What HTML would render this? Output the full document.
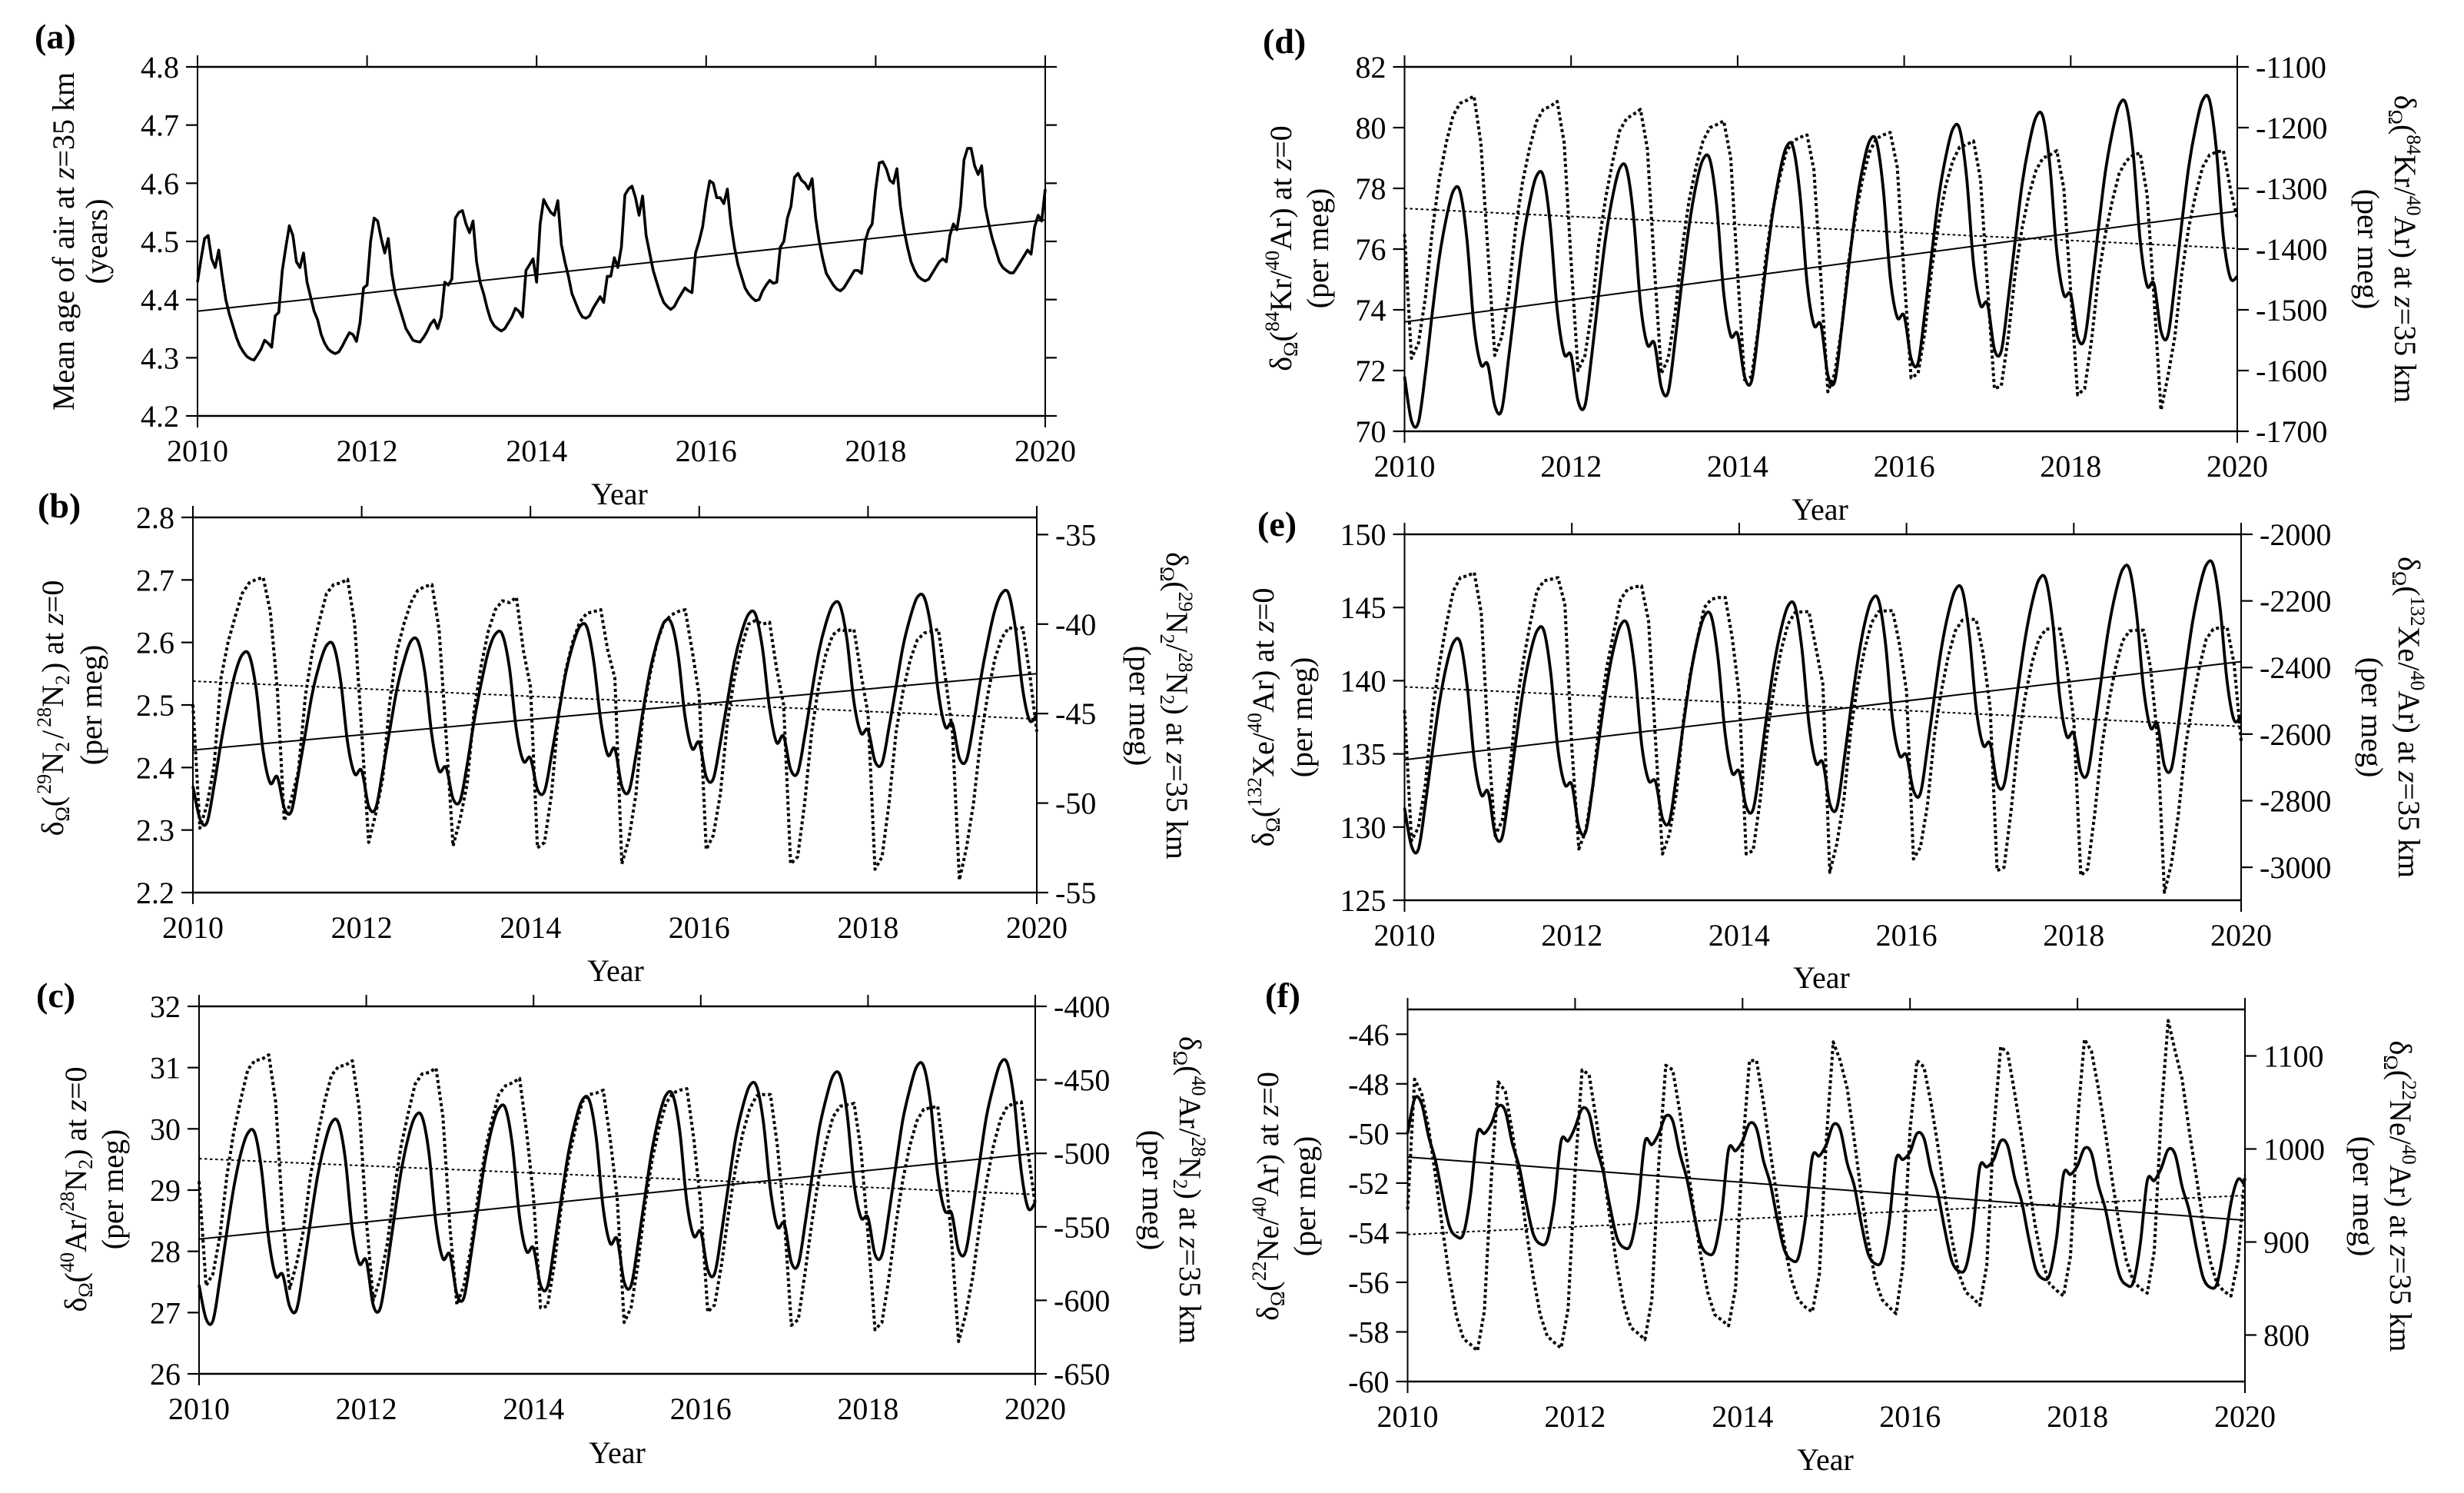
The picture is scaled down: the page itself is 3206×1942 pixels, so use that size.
<!DOCTYPE html>
<html lang="en">
<head>
<meta charset="utf-8">
<title>Seasonal cycles and trends of mean age of air and gravitational separation, 2010-2020</title>
<style>
html,body{margin:0;padding:0;background:#fff;}
svg{display:block;}
text{font-family:"Liberation Serif","DejaVu Serif",serif;fill:#000;font-size:40px;}
.s{font-size:26px;}
.i{font-style:italic;}
.panel-tag{font-weight:bold;font-size:46px;}
</style>
</head>
<body>
<svg id="figure" xmlns="http://www.w3.org/2000/svg" width="3206" height="1942" viewBox="0 0 3206 1942">
  <rect width="3206" height="1942" fill="#fff"/>
  <text class="panel-tag" x="45" y="63">(a)</text>
  <text class="panel-tag" x="49" y="673">(b)</text>
  <text class="panel-tag" x="47" y="1310">(c)</text>
  <text class="panel-tag" x="1643" y="69">(d)</text>
  <text class="panel-tag" x="1636" y="697">(e)</text>
  <text class="panel-tag" x="1646" y="1310">(f)</text>

  <text text-anchor="middle" transform="translate(96,314) rotate(-90)">Mean age of air at <tspan class="i">z</tspan>=35 km</text>
  <text text-anchor="middle" transform="translate(139,314) rotate(-90)">(years)</text>

  <text text-anchor="middle" transform="translate(82,921) rotate(-90)">δ<tspan class="s" dy="8">Ω</tspan><tspan dy="-8">(</tspan><tspan class="s" dy="-16" dx="3">29</tspan><tspan dy="16">N</tspan><tspan class="s" dy="8">2</tspan><tspan dy="-8" dx="4">/</tspan><tspan class="s" dy="-16" dx="4">28</tspan><tspan dy="16">N</tspan><tspan class="s" dy="8">2</tspan><tspan dy="-8" dx="3">) at </tspan><tspan class="i">z</tspan>=0</text>
  <text text-anchor="middle" transform="translate(132,917) rotate(-90)">(per meg)</text>
  <text text-anchor="middle" transform="translate(1518,918) rotate(90)">δ<tspan class="s" dy="8">Ω</tspan><tspan dy="-8">(</tspan><tspan class="s" dy="-16">29</tspan><tspan dy="16">N</tspan><tspan class="s" dy="8">2</tspan><tspan dy="-8">/</tspan><tspan class="s" dy="-16">28</tspan><tspan dy="16">N</tspan><tspan class="s" dy="8">2</tspan><tspan dy="-8">) at </tspan><tspan class="i">z</tspan>=35 km</text>
  <text text-anchor="middle" transform="translate(1470,918) rotate(90)">(per meg)</text>

  <text text-anchor="middle" transform="translate(112,1547) rotate(-90)">δ<tspan class="s" dy="8">Ω</tspan><tspan dy="-8">(</tspan><tspan class="s" dy="-16">40</tspan><tspan dy="16">Ar/</tspan><tspan class="s" dy="-16">28</tspan><tspan dy="16">N</tspan><tspan class="s" dy="8">2</tspan><tspan dy="-8">) at </tspan><tspan class="i">z</tspan>=0</text>
  <text text-anchor="middle" transform="translate(160,1547) rotate(-90)">(per meg)</text>
  <text text-anchor="middle" transform="translate(1535,1548) rotate(90)">δ<tspan class="s" dy="8">Ω</tspan><tspan dy="-8">(</tspan><tspan class="s" dy="-16">40</tspan><tspan dy="16">Ar/</tspan><tspan class="s" dy="-16">28</tspan><tspan dy="16">N</tspan><tspan class="s" dy="8">2</tspan><tspan dy="-8">) at </tspan><tspan class="i">z</tspan>=35 km</text>
  <text text-anchor="middle" transform="translate(1487,1548) rotate(90)">(per meg)</text>

  <text text-anchor="middle" transform="translate(1680,323) rotate(-90)">δ<tspan class="s" dy="8">Ω</tspan><tspan dy="-8">(</tspan><tspan class="s" dy="-16">84</tspan><tspan dy="16">Kr/</tspan><tspan class="s" dy="-16">40</tspan><tspan dy="16">Ar) at </tspan><tspan class="i">z</tspan>=0</text>
  <text text-anchor="middle" transform="translate(1728,323) rotate(-90)">(per meg)</text>
  <text text-anchor="middle" transform="translate(3116,324) rotate(90)">δ<tspan class="s" dy="8">Ω</tspan><tspan dy="-8">(</tspan><tspan class="s" dy="-16">84</tspan><tspan dy="16">Kr/</tspan><tspan class="s" dy="-16">40</tspan><tspan dy="16">Ar) at </tspan><tspan class="i">z</tspan>=35 km</text>
  <text text-anchor="middle" transform="translate(3068,324) rotate(90)">(per meg)</text>

  <text text-anchor="middle" transform="translate(1657,933) rotate(-90)">δ<tspan class="s" dy="8">Ω</tspan><tspan dy="-8">(</tspan><tspan class="s" dy="-16">132</tspan><tspan dy="16">Xe/</tspan><tspan class="s" dy="-16">40</tspan><tspan dy="16">Ar) at </tspan><tspan class="i">z</tspan>=0</text>
  <text text-anchor="middle" transform="translate(1707,933) rotate(-90)">(per meg)</text>
  <text text-anchor="middle" transform="translate(3121,933) rotate(90)">δ<tspan class="s" dy="8">Ω</tspan><tspan dy="-8">(</tspan><tspan class="s" dy="-16">132</tspan><tspan dy="16">Xe/</tspan><tspan class="s" dy="-16">40</tspan><tspan dy="16">Ar) at </tspan><tspan class="i">z</tspan>=35 km</text>
  <text text-anchor="middle" transform="translate(3073,933) rotate(90)">(per meg)</text>

  <text text-anchor="middle" transform="translate(1663,1556) rotate(-90)">δ<tspan class="s" dy="8">Ω</tspan><tspan dy="-8">(</tspan><tspan class="s" dy="-16">22</tspan><tspan dy="16">Ne/</tspan><tspan class="s" dy="-16">40</tspan><tspan dy="16">Ar) at </tspan><tspan class="i">z</tspan>=0</text>
  <text text-anchor="middle" transform="translate(1711,1556) rotate(-90)">(per meg)</text>
  <text text-anchor="middle" transform="translate(3110,1556) rotate(90)">δ<tspan class="s" dy="8">Ω</tspan><tspan dy="-8">(</tspan><tspan class="s" dy="-16">22</tspan><tspan dy="16">Ne/</tspan><tspan class="s" dy="-16">40</tspan><tspan dy="16">Ar) at </tspan><tspan class="i">z</tspan>=35 km</text>
  <text text-anchor="middle" transform="translate(3062,1556) rotate(90)">(per meg)</text>

  <text text-anchor="middle" x="806" y="656">Year</text>
  <text text-anchor="middle" x="801" y="1276">Year</text>
  <text text-anchor="middle" x="803" y="1903">Year</text>
  <text text-anchor="middle" x="2368" y="676">Year</text>
  <text text-anchor="middle" x="2370" y="1285">Year</text>
  <text text-anchor="middle" x="2375" y="1912">Year</text>
</svg>
<script>
// ---- shared axis data ----
const yearLabels = ['2010','2012','2014','2016','2018','2020'];
const yearDomain = [2010, 2020];

// ---- panel a: mean age of air, samples twice a month ----
const aLeftDomain = [4.2, 4.8];
const aLeftLabels = ['4.2','4.3','4.4','4.5','4.6','4.7','4.8'];
const aSolid = [
4.43,4.47,4.505,4.51,4.47,4.455, 4.485,4.44,4.40,4.375,4.355,4.335, 4.32,4.31,4.302,4.298,4.296,4.305, 4.315,4.33,4.325,4.318,4.372,4.378,
4.45,4.49,4.527,4.51,4.465,4.455, 4.48,4.43,4.405,4.38,4.365,4.34, 4.325,4.315,4.31,4.307,4.31,4.32, 4.332,4.343,4.34,4.328,4.36,4.42,
4.425,4.50,4.54,4.535,4.505,4.48, 4.505,4.445,4.41,4.39,4.37,4.35, 4.34,4.33,4.328,4.327,4.335,4.345, 4.358,4.365,4.35,4.37,4.43,4.425,
4.435,4.54,4.55,4.553,4.53,4.515, 4.535,4.465,4.43,4.41,4.385,4.365, 4.355,4.35,4.346,4.35,4.36,4.37, 4.385,4.38,4.37,4.45,4.46,4.47,
4.43,4.53,4.572,4.56,4.55,4.545, 4.57,4.495,4.465,4.44,4.41,4.395, 4.38,4.37,4.368,4.372,4.385,4.395, 4.405,4.395,4.44,4.44,4.472,4.455,
4.49,4.58,4.59,4.595,4.575,4.545, 4.578,4.51,4.48,4.45,4.43,4.41, 4.395,4.388,4.383,4.388,4.40,4.41, 4.42,4.415,4.412,4.48,4.50,4.525,
4.57,4.604,4.60,4.575,4.575,4.565, 4.59,4.53,4.49,4.46,4.44,4.42, 4.41,4.403,4.398,4.40,4.415,4.425, 4.433,4.428,4.43,4.49,4.50,4.54,
4.56,4.61,4.617,4.605,4.60,4.59, 4.608,4.54,4.50,4.47,4.445,4.435, 4.425,4.418,4.415,4.42,4.43,4.44, 4.45,4.45,4.445,4.50,4.52,4.53,
4.59,4.635,4.637,4.625,4.605,4.60, 4.625,4.56,4.52,4.49,4.465,4.45, 4.44,4.435,4.432,4.435,4.445,4.455, 4.465,4.47,4.465,4.51,4.53,4.52,
4.56,4.64,4.66,4.66,4.63,4.615, 4.63,4.56,4.53,4.505,4.485,4.465, 4.455,4.45,4.446,4.446,4.455,4.465, 4.475,4.485,4.478,4.525,4.545,4.535,
4.59];
const aSolidTrend = [4.38, 4.537];

// ---- panel b: 29N2/28N2, monthly ----
const bLeftDomain = [2.2, 2.8];
const bLeftLabels = ['2.2','2.3','2.4','2.5','2.6','2.7','2.8'];
const bRightDomain = [-55, -34.04];
const bRightLabels = ['-55','-50','-45','-40','-35'];
const bSolid = [
2.37,2.318,2.312,2.37,2.44,2.50,2.55,2.58,2.58,2.525,2.425,2.375,
2.385,2.335,2.33,2.39,2.455,2.52,2.565,2.595,2.595,2.54,2.44,2.39,
2.395,2.338,2.335,2.395,2.46,2.525,2.57,2.602,2.602,2.55,2.45,2.395,
2.40,2.35,2.347,2.405,2.475,2.535,2.585,2.613,2.613,2.56,2.46,2.41,
2.415,2.365,2.362,2.42,2.485,2.55,2.595,2.625,2.625,2.57,2.475,2.42,
2.43,2.37,2.362,2.42,2.49,2.555,2.60,2.632,2.632,2.58,2.48,2.43,
2.44,2.385,2.382,2.44,2.505,2.57,2.615,2.645,2.645,2.59,2.495,2.44,
2.45,2.397,2.392,2.45,2.52,2.585,2.63,2.66,2.66,2.605,2.505,2.455,
2.46,2.41,2.407,2.465,2.53,2.595,2.64,2.672,2.672,2.62,2.52,2.465,
2.47,2.415,2.412,2.47,2.54,2.60,2.65,2.678,2.678,2.62,2.525,2.475,
2.485];
const bDashed = [
-44.5,-51.4,-50.1,-48,-43,-41,-39.6,-38.3,-37.7,-37.5,-37.4,-39.3,
-43.6,-51.0,-49.8,-48.2,-44,-41.5,-39.8,-38.3,-37.8,-37.7,-37.5,-40,
-46,-52.2,-50.6,-48.6,-44.3,-41.5,-40,-38.8,-38.1,-37.9,-37.8,-40.3,
-46.2,-52.4,-50.9,-48.9,-44.8,-42.3,-40.4,-39.2,-38.7,-38.8,-38.5,-41.5,
-43.5,-52.5,-52.2,-49.5,-45,-42.6,-41,-39.9,-39.4,-39.3,-39.2,-41.5,
-43,-53.4,-52,-49.5,-45,-42.8,-41,-39.9,-39.5,-39.3,-39.2,-41.5,
-44,-52.6,-51.8,-49.5,-45.5,-43,-41.3,-40,-39.8,-40,-39.9,-42.5,
-44.5,-53.4,-53,-50,-46,-43.4,-41.7,-40.6,-40.3,-40.4,-40.3,-42.8,
-45,-53.7,-53,-50,-46,-43.7,-42,-40.9,-40.5,-40.4,-40.3,-43,
-46,-54.3,-52.5,-50,-46.5,-44,-42,-40.8,-40.2,-40.3,-40.2,-42.8,
-46];
const bSolidTrend = [2.428, 2.55];
const bDottedTrend = [-43.19, -45.3];

// ---- panel c: 40Ar/28N2, monthly ----
const cLeftDomain = [26, 32];
const cLeftLabels = ['26','27','28','29','30','31','32'];
const cRightDomain = [-650, -400];
const cRightLabels = ['-650','-600','-550','-500','-450','-400'];
const cSolid = [
27.45,26.9,26.87,27.55,28.33,29.05,29.6,29.93,29.93,29.3,28.2,27.6,
27.62,27.1,27.05,27.72,28.5,29.22,29.75,30.1,30.1,29.5,28.35,27.8,
27.85,27.12,27.07,27.75,28.55,29.3,29.85,30.2,30.2,29.6,28.45,27.88,
27.95,27.3,27.24,27.92,28.7,29.45,30,30.33,30.33,29.7,28.55,28,
28.05,27.45,27.42,28.1,28.87,29.6,30.12,30.47,30.47,29.85,28.7,28.13,
28.2,27.5,27.44,28.12,28.9,29.65,30.2,30.55,30.55,29.95,28.8,28.25,
28.32,27.7,27.64,28.32,29.1,29.85,30.35,30.7,30.7,30.1,29,28.4,
28.45,27.82,27.79,28.47,29.25,30,30.5,30.87,30.87,30.25,29.1,28.55,
28.55,27.95,27.94,28.62,29.4,30.15,30.65,31.02,31.02,30.4,29.25,28.67,
28.62,28.02,27.99,28.67,29.45,30.2,30.7,31.07,31.07,30.45,29.3,28.7,
28.8];
const cDashed = [
-519,-590,-582,-556,-515,-485,-463,-443,-437,-436,-433,-465,
-543,-592,-575,-552,-515,-488,-465,-447,-441,-440,-437,-470,
-545,-600,-585,-562,-525,-495,-473,-453,-446,-445,-442,-475,
-550,-603,-590,-565,-530,-500,-478,-460,-454,-452,-449,-485,
-530,-605,-604,-575,-535,-505,-483,-465,-460,-459,-457,-490,
-530,-615,-605,-575,-535,-505,-483,-466,-459,-457,-456,-490,
-535,-608,-603,-575,-540,-510,-487,-470,-461,-460,-460,-495,
-545,-617,-613,-580,-545,-515,-492,-475,-468,-467,-466,-498,
-555,-620,-615,-585,-548,-518,-495,-478,-470,-469,-468,-505,
-560,-628,-610,-585,-550,-520,-495,-477,-468,-466,-465,-500,
-535];
const cSolidTrend = [28.2, 29.6];
const cDottedTrend = [-503.6, -528];

// ---- panel d: 84Kr/40Ar, monthly ----
const dLeftDomain = [70, 82];
const dLeftLabels = ['70','72','74','76','78','80','82'];
const dRightDomain = [-1700, -1100];
const dRightLabels = ['-1700','-1600','-1500','-1400','-1300','-1200','-1100'];
const dSolid = [
71.8,70.35,70.3,71.9,73.9,75.7,77,77.9,77.9,76.3,73.5,72.2,
72.2,70.85,70.7,72.4,74.35,76.2,77.5,78.4,78.4,76.8,74,72.55,
72.5,71.0,70.85,72.55,74.55,76.4,77.75,78.65,78.65,77.05,74.2,72.85,
72.9,71.45,71.3,73,75,76.75,78.1,78.95,78.95,77.4,74.55,73.15,
73.2,71.8,71.65,73.35,75.3,77.1,78.45,79.35,79.35,77.75,74.9,73.5,
73.5,71.85,71.65,73.4,75.4,77.3,78.65,79.55,79.55,77.95,75.05,73.75,
73.8,72.4,72.25,73.95,75.9,77.75,79.05,79.95,79.95,78.35,75.5,74.15,
74.2,72.7,72.65,74.35,76.3,78.15,79.45,80.35,80.35,78.75,75.9,74.5,
74.5,73.1,73.05,74.75,76.7,78.55,79.85,80.75,80.75,79.15,76.3,74.8,
74.85,73.3,73.15,74.85,76.85,78.7,80,80.9,80.9,79.25,76.4,75.05,
75.1];
const dDashed = [
-1375,-1580,-1555,-1480,-1370,-1285,-1225,-1180,-1160,-1155,-1148,-1225,
-1400,-1575,-1545,-1475,-1365,-1290,-1235,-1190,-1170,-1165,-1157,-1225,
-1420,-1600,-1575,-1500,-1390,-1315,-1255,-1205,-1185,-1178,-1170,-1235,
-1430,-1605,-1580,-1505,-1400,-1320,-1265,-1222,-1200,-1195,-1189,-1250,
-1440,-1615,-1610,-1530,-1420,-1340,-1285,-1240,-1222,-1216,-1212,-1270,
-1450,-1635,-1605,-1530,-1420,-1345,-1285,-1240,-1218,-1212,-1208,-1265,
-1445,-1612,-1605,-1535,-1430,-1355,-1295,-1255,-1232,-1228,-1222,-1285,
-1460,-1630,-1625,-1545,-1440,-1365,-1310,-1270,-1250,-1245,-1238,-1300,
-1470,-1640,-1630,-1550,-1445,-1375,-1320,-1275,-1255,-1245,-1242,-1310,
-1480,-1665,-1610,-1545,-1440,-1365,-1310,-1265,-1245,-1240,-1238,-1300,
-1350];
const dSolidTrend = [73.6, 77.25];
const dDottedTrend = [-1333, -1399];

// ---- panel e: 132Xe/40Ar, monthly ----
const eLeftDomain = [125, 150];
const eLeftLabels = ['125','130','135','140','145','150'];
const eRightDomain = [-3099, -2000];
const eRightLabels = ['-3000','-2800','-2600','-2400','-2200','-2000'];
const eSolid = [
131.3,128.7,128.5,131.6,135.2,138.5,141,142.6,142.6,139.6,134.6,132.2,
132.4,129.5,129.3,132.4,136,139.3,141.8,143.4,143.4,140.4,135.3,132.9,
132.9,130.0,129.7,132.8,136.4,139.7,142.2,143.8,143.8,140.9,135.7,133.2,
133.1,130.6,130.4,133.5,137,140.3,142.8,144.4,144.4,141.4,136.3,133.7,
133.8,131.4,131.2,134.2,137.8,141.1,143.5,145.1,145.1,142.2,137.1,134.4,
134.4,131.6,131.3,134.4,138,141.3,143.9,145.5,145.5,142.5,137.3,134.9,
134.9,132.5,132.3,135.4,138.9,142.2,144.6,146.2,146.2,143.2,138.1,135.6,
135.7,133,132.9,136,139.5,142.8,145.3,146.9,146.9,143.9,138.8,136.2,
136.4,133.8,133.7,136.8,140.3,143.6,146,147.6,147.6,144.6,139.5,136.8,
137,134.2,134,137,140.6,143.9,146.3,147.9,147.9,144.9,139.9,137.3,
137.6];
const eDashed = [
-2528,-2920,-2880,-2750,-2530,-2390,-2270,-2170,-2130,-2125,-2115,-2235,
-2620,-2905,-2860,-2730,-2520,-2385,-2270,-2170,-2140,-2135,-2130,-2210,
-2640,-2945,-2890,-2760,-2545,-2400,-2295,-2195,-2165,-2158,-2155,-2260,
-2620,-2960,-2900,-2775,-2560,-2420,-2315,-2220,-2195,-2190,-2190,-2310,
-2480,-2960,-2950,-2800,-2600,-2460,-2350,-2270,-2235,-2233,-2232,-2340,
-2450,-3015,-2930,-2800,-2590,-2450,-2345,-2265,-2232,-2230,-2229,-2330,
-2470,-2975,-2940,-2815,-2605,-2470,-2365,-2290,-2258,-2255,-2256,-2360,
-2520,-3010,-3000,-2830,-2625,-2490,-2385,-2315,-2285,-2284,-2284,-2390,
-2560,-3025,-3005,-2840,-2640,-2505,-2400,-2320,-2290,-2288,-2288,-2400,
-2610,-3075,-2990,-2840,-2640,-2510,-2400,-2315,-2285,-2280,-2280,-2390,
-2620];
const eSolidTrend = [134.6, 141.3];
const eDottedTrend = [-2458, -2577];

// ---- panel f: 22Ne/40Ar, monthly ----
const fLeftDomain = [-60, -45];
const fLeftLabels = ['-60','-58','-56','-54','-52','-50','-48','-46'];
const fRightDomain = [750, 1150];
const fRightLabels = ['800','900','1000','1100'];
const fSolid = [
-50,-48.6,-48.8,-50.1,-51.1,-52.5,-53.75,-54.15,-54.05,-52.5,-50,-50,
-49.6,-48.9,-49.1,-50.4,-51.35,-52.8,-54.05,-54.45,-54.3,-52.8,-50.3,-50.3,
-49.75,-49,-49.2,-50.5,-51.5,-52.95,-54.2,-54.6,-54.45,-52.95,-50.35,-50.45,
-50,-49.3,-49.5,-50.8,-51.8,-53.2,-54.45,-54.85,-54.7,-53.2,-50.65,-50.7,
-50.3,-49.6,-49.8,-51.1,-52.05,-53.5,-54.7,-55.1,-55,-53.45,-50.95,-50.9,
-50.45,-49.65,-49.85,-51.2,-52.1,-53.6,-54.85,-55.25,-55.1,-53.6,-51.05,-51.05,
-50.75,-50,-50.2,-51.5,-52.45,-53.9,-55.15,-55.55,-55.4,-53.9,-51.35,-51.35,
-51.05,-50.3,-50.5,-51.8,-52.75,-54.2,-55.45,-55.85,-55.7,-54.2,-51.65,-51.65,
-51.3,-50.6,-50.8,-52.1,-53.05,-54.45,-55.7,-56.1,-56,-54.45,-51.9,-51.9,
-51.4,-50.65,-50.85,-52.15,-53.1,-54.55,-55.8,-56.2,-56.05,-54.6,-52.8,-51.85,
-52.1];
const fDashed = [
935,1075,1060,1023,971,914,862,820,796,790,783,826,
970,1072,1062,1018,969,913,863,822,799,792,786,828,
975,1085,1080,1033,982,925,874,832,808,802,795,838,
985,1090,1085,1040,990,935,886,846,822,816,810,850,
1000,1095,1095,1050,996,945,897,860,838,830,825,865,
1010,1115,1095,1065,1010,953,902,860,838,830,823,875,
1020,1095,1088,1050,1003,950,903,866,846,840,832,875,
1020,1110,1103,1060,1013,962,915,878,855,848,842,885,
1030,1118,1105,1065,1018,965,918,880,858,850,845,890,
1040,1138,1105,1075,1020,972,922,880,855,847,842,880,
972];
const fSolidTrend = [-50.95, -53.5];
const fDottedTrend = [908, 950];

// ---- layout (pixels) lives apart from the data ----
const frameA = {l:257, r:1360, t:87,   b:541};
const frameB = {l:251, r:1349, t:673,  b:1161};
const frameC = {l:259, r:1347, t:1309, b:1787};
const frameD = {l:1827.5, r:2911, t:87,  b:561};
const frameE = {l:1827.5, r:2916, t:695, b:1171};
const frameF = {l:1831.5, r:2921, t:1313, b:1797};

const svg = document.getElementById('figure');
const NS = 'http://www.w3.org/2000/svg';

function scale(domain, r0, r1) {
  return function (v) { return r0 + (v - domain[0]) / (domain[1] - domain[0]) * (r1 - r0); };
}
function addLine(parent, x1, y1, x2, y2, w, name) {
  const el = document.createElementNS(NS, 'line');
  el.setAttribute('x1', x1); el.setAttribute('y1', y1);
  el.setAttribute('x2', x2); el.setAttribute('y2', y2);
  el.setAttribute('stroke', '#000'); el.setAttribute('stroke-width', w);
  
  
  parent.appendChild(el);
}
function addLabel(parent, x, y, str, anchor, name) {
  const el = document.createElementNS(NS, 'text');
  el.setAttribute('x', x); el.setAttribute('y', y);
  el.setAttribute('text-anchor', anchor);
  el.textContent = str;
  
  
  parent.appendChild(el);
}
function linePath(pts, smooth) {
  let d = 'M' + pts[0][0].toFixed(1) + ' ' + pts[0][1].toFixed(1);
  for (let i = 1; i < pts.length; i++) {
    if (!smooth) { d += 'L' + pts[i][0].toFixed(1) + ' ' + pts[i][1].toFixed(1); continue; }
    const p0 = pts[Math.max(i - 2, 0)], p1 = pts[i - 1], p2 = pts[i], p3 = pts[Math.min(i + 1, pts.length - 1)];
    d += 'C' + (p1[0] + (p2[0] - p0[0]) / 6).toFixed(1) + ' ' + (p1[1] + (p2[1] - p0[1]) / 6).toFixed(1) + ' '
      + (p2[0] - (p3[0] - p1[0]) / 6).toFixed(1) + ' ' + (p2[1] - (p3[1] - p1[1]) / 6).toFixed(1) + ' '
      + p2[0].toFixed(1) + ' ' + p2[1].toFixed(1);
  }
  return d;
}
function addSeries(parent, values, xs, ys, style, name) {
  const n = values.length;
  const pts = values.map(function (v, i) {
    return [xs(yearDomain[0] + i / (n - 1) * (yearDomain[1] - yearDomain[0])), ys(v)];
  });
  const el = document.createElementNS(NS, 'path');
  el.setAttribute('d', linePath(pts, style.smooth));
  el.setAttribute('fill', 'none');
  el.setAttribute('stroke', '#000');
  el.setAttribute('stroke-width', style.width);
  el.setAttribute('stroke-linejoin', 'round');
  if (style.dash) el.setAttribute('stroke-dasharray', style.dash);
  
  
  parent.appendChild(el);
}

const solidStyle = {width: 3.8, smooth: true};
const jaggedStyle = {width: 3.6, smooth: false};
const dashedStyle = {width: 4, smooth: false, dash: '4 3.6'};
const trendStyle = {width: 2, smooth: false};
const dottedTrendStyle = {width: 2, smooth: false, dash: '3.5 3.5'};

function drawPanel(key, fr, leftDomain, leftLabels, rightDomain, rightLabels, solid, dashed, solidTrend, dottedTrend) {
  const g = document.createElementNS(NS, 'g');
  
  
  svg.appendChild(g);
  const xs = scale(yearDomain, fr.l, fr.r);
  const yL = scale(leftDomain, fr.b, fr.t);
  const yR = rightDomain ? scale(rightDomain, fr.b, fr.t) : yL;

  // frame: long verticals overshoot, heavy horizontals span the plot
  addLine(g, fr.l, fr.t - 15, fr.l, fr.b + 15, 2, 'panel-' + key + '-left-axis');
  addLine(g, fr.r, fr.t - 15, fr.r, fr.b + 15, 2, 'panel-' + key + '-right-axis');
  addLine(g, fr.l, fr.t, fr.r, fr.t, 2.4, 'panel-' + key + '-top-border');
  addLine(g, fr.l, fr.b, fr.r, fr.b, 2.4, 'panel-' + key + '-bottom-border');

  yearLabels.forEach(function (label) {
    const x = xs(Number(label));
    if (x > fr.l + 1 && x < fr.r - 1) addLine(g, x, fr.t - 15, x, fr.t, 2, 'panel-' + key + '-x-tick');
    addLabel(g, x, fr.b + 59, label, 'middle', 'panel-' + key + '-x-tick-label');
  });
  leftLabels.forEach(function (label) {
    const y = yL(Number(label));
    addLine(g, fr.l - 15, y, fr.l, y, 2.2, 'panel-' + key + '-left-tick');
    addLabel(g, fr.l - 24, y + 14, label, 'end', 'panel-' + key + '-left-tick-label');
  });
  if (rightDomain) {
    rightLabels.forEach(function (label) {
      const y = yR(Number(label));
      addLine(g, fr.r, y, fr.r + 15, y, 2.2, 'panel-' + key + '-right-tick');
      addLabel(g, fr.r + 24, y + 14, label, 'start', 'panel-' + key + '-right-tick-label');
    });
  } else {
    leftLabels.forEach(function (label) {
      const y = yL(Number(label));
      addLine(g, fr.r, y, fr.r + 15, y, 2.2, 'panel-' + key + '-right-tick');
    });
  }

  if (dashed) addSeries(g, dashed, xs, yR, dashedStyle, 'panel-' + key + '-z35-dashed-series');
  addSeries(g, solid, xs, yL, rightDomain ? solidStyle : jaggedStyle, 'panel-' + key + '-solid-series');
  addSeries(g, solidTrend, xs, yL, trendStyle, 'panel-' + key + '-solid-trend-line');
  if (dottedTrend) addSeries(g, dottedTrend, xs, yR, dottedTrendStyle, 'panel-' + key + '-dotted-trend-line');
}

drawPanel('a', frameA, aLeftDomain, aLeftLabels, null, null, aSolid, null, aSolidTrend, null);
drawPanel('b', frameB, bLeftDomain, bLeftLabels, bRightDomain, bRightLabels, bSolid, bDashed, bSolidTrend, bDottedTrend);
drawPanel('c', frameC, cLeftDomain, cLeftLabels, cRightDomain, cRightLabels, cSolid, cDashed, cSolidTrend, cDottedTrend);
drawPanel('d', frameD, dLeftDomain, dLeftLabels, dRightDomain, dRightLabels, dSolid, dDashed, dSolidTrend, dDottedTrend);
drawPanel('e', frameE, eLeftDomain, eLeftLabels, eRightDomain, eRightLabels, eSolid, eDashed, eSolidTrend, eDottedTrend);
drawPanel('f', frameF, fLeftDomain, fLeftLabels, fRightDomain, fRightLabels, fSolid, fDashed, fSolidTrend, fDottedTrend);
</script>
</body>
</html>
